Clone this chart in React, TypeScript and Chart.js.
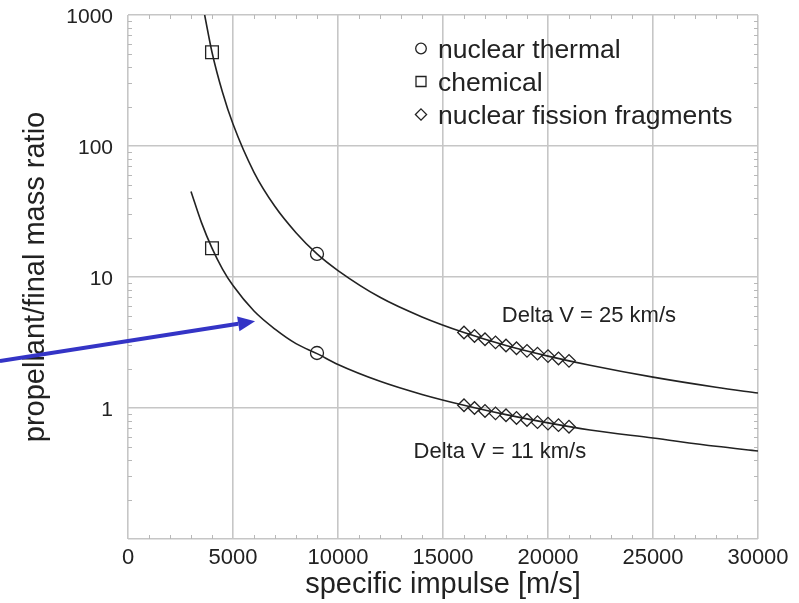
import React, { useEffect, useRef } from 'react';
import { Chart, registerables } from 'chart.js';

Chart.register(...registerables);

// ---- data ----
const X_TICKS = [0, 5000, 10000, 15000, 20000, 25000, 30000];
const X_LABELS = ['0', '5000', '10000', '15000', '20000', '25000', '30000'];
const Y_TICKS = [0.1, 1, 10, 100, 1000];
const Y_LABELS = ['', '1', '10', '100', '1000'];

// Delta V = 25 km/s curve
const curve25X = [3650, 4000, 4500, 5000, 6000, 7000, 8000, 9000, 10000, 12000, 14000, 16000, 18000, 20000, 22000, 25000, 28000, 30000];
const curve25Y = [1000, 520, 257, 147, 63, 34.5, 21.8, 15, 11.2, 7.0, 4.96, 3.77, 3.0, 2.49, 2.12, 1.72, 1.44, 1.30];

// Delta V = 11 km/s curve
const curve11X = [3000, 3500, 4000, 4500, 5000, 6000, 7000, 8000, 9000, 10000, 12000, 14000, 16000, 18000, 20000, 22000, 25000, 28000, 30000];
const curve11Y = [45, 26, 16.6, 11.5, 8.6, 5.5, 4.0, 3.1, 2.6, 2.15, 1.6, 1.27, 1.05, 0.89, 0.77, 0.68, 0.59, 0.51, 0.47];

// nuclear thermal (circles)
const thermalX = [9000, 9000];
const thermalY = [15, 2.63];

// chemical (squares)
const chemicalX = [4000, 4000];
const chemicalY = [520, 16.6];

// nuclear fission fragments (diamonds)
const fissionX = [16000, 16500, 17000, 17500, 18000, 18500, 19000, 19500, 20000, 20500, 21000];
const fission25Y = [3.77, 3.55, 3.35, 3.17, 3.0, 2.86, 2.73, 2.6, 2.49, 2.39, 2.29];
const fission11Y = [1.05, 1.0, 0.95, 0.91, 0.88, 0.84, 0.81, 0.78, 0.76, 0.74, 0.72];

const LEGEND_LABELS = ['nuclear thermal', 'chemical', 'nuclear fission fragments'];
const LEGEND_SHAPES = ['circle', 'rect', 'rectRot'];

const NOTE_TEXTS = ['Delta V = 25 km/s', 'Delta V = 11 km/s'];
const NOTE_X = [17800, 13600];
const NOTE_Y = [5.0, 0.46];

const ARROW_FROM = [-6100, 2.28];
const ARROW_TO = [6050, 4.6];

const FONT = '"Liberation Sans", Arial, Helvetica, sans-serif';
const INK = '#222222';

const zip = (xs: number[], ys: number[]) => xs.map((x, i) => ({ x, y: ys[i] }));

function drawShape(ctx: CanvasRenderingContext2D, shape: string, x: number, y: number, r: number) {
  ctx.beginPath();
  if (shape === 'circle') {
    ctx.arc(x, y, r, 0, Math.PI * 2);
  } else if (shape === 'rect') {
    ctx.rect(x - r, y - r, 2 * r, 2 * r);
  } else {
    ctx.moveTo(x, y - r);
    ctx.lineTo(x + r, y);
    ctx.lineTo(x, y + r);
    ctx.lineTo(x - r, y);
    ctx.closePath();
  }
  ctx.stroke();
}

const decorPlugin = {
  id: 'decor',
  afterDraw(chart: any) {
    const { ctx, chartArea: ca, scales } = chart;
    const xs = scales.x;
    const ys = scales.y;
    ctx.save();

    // inward minor ticks
    ctx.strokeStyle = '#b8b8b8';
    ctx.lineWidth = 1;
    for (let v = 1000; v < 30000; v += 1000) {
      if (v % 5000 === 0) continue;
      const px = Math.round(xs.getPixelForValue(v)) + 0.5;
      ctx.beginPath();
      ctx.moveTo(px, ca.bottom);
      ctx.lineTo(px, ca.bottom - 4);
      ctx.moveTo(px, ca.top);
      ctx.lineTo(px, ca.top + 4);
      ctx.stroke();
    }
    for (let d = 0.1; d < 1000; d *= 10) {
      for (let m = 2; m <= 9; m++) {
        const py = Math.round(ys.getPixelForValue(d * m)) + 0.5;
        ctx.beginPath();
        ctx.moveTo(ca.left, py);
        ctx.lineTo(ca.left + 4, py);
        ctx.moveTo(ca.right, py);
        ctx.lineTo(ca.right - 4, py);
        ctx.stroke();
      }
    }

    // curve annotations
    ctx.fillStyle = INK;
    ctx.font = `22px ${FONT}`;
    ctx.textAlign = 'left';
    ctx.textBaseline = 'middle';
    NOTE_TEXTS.forEach((t, i) => {
      ctx.fillText(t, xs.getPixelForValue(NOTE_X[i]), ys.getPixelForValue(NOTE_Y[i]));
    });

    // legend
    ctx.font = `26.5px ${FONT}`;
    ctx.textBaseline = 'alphabetic';
    ctx.strokeStyle = INK;
    ctx.lineWidth = 1.3;
    LEGEND_LABELS.forEach((t, i) => {
      const cy = ca.top + 33.5 + i * 33;
      const cx = ca.left + 293;
      const r = LEGEND_SHAPES[i] === 'rect' ? 5 : LEGEND_SHAPES[i] === 'circle' ? 5.3 : 5.6;
      drawShape(ctx, LEGEND_SHAPES[i], cx, cy, r);
      ctx.fillText(t, ca.left + 310, cy + 9.5);
    });

    // blue arrow
    const x0 = xs.getPixelForValue(ARROW_FROM[0]);
    const y0 = ys.getPixelForValue(ARROW_FROM[1]);
    const x1 = xs.getPixelForValue(ARROW_TO[0]);
    const y1 = ys.getPixelForValue(ARROW_TO[1]);
    const ang = Math.atan2(y1 - y0, x1 - x0);
    const headL = 17;
    const headW = 7.5;
    const bx = x1 - headL * Math.cos(ang);
    const by = y1 - headL * Math.sin(ang);
    ctx.strokeStyle = '#3434c6';
    ctx.fillStyle = '#3434c6';
    ctx.lineWidth = 4;
    ctx.beginPath();
    ctx.moveTo(x0, y0);
    ctx.lineTo(bx, by);
    ctx.stroke();
    ctx.beginPath();
    ctx.moveTo(x1, y1);
    ctx.lineTo(bx - headW * Math.sin(ang), by + headW * Math.cos(ang));
    ctx.lineTo(bx + headW * Math.sin(ang), by - headW * Math.cos(ang));
    ctx.closePath();
    ctx.fill();

    ctx.restore();
  },
};

export default function App() {
  const ref = useRef<HTMLCanvasElement | null>(null);

  useEffect(() => {
    if (!ref.current) return;
    const lineDs = (xs: number[], ys: number[]) => ({
      data: zip(xs, ys),
      showLine: true,
      borderColor: INK,
      borderWidth: 1.6,
      pointRadius: 0,
      cubicInterpolationMode: 'monotone' as const,
      fill: false,
    });
    const markDs = (xs: number[], ys: number[], style: string, r: number) => ({
      data: zip(xs, ys),
      showLine: false,
      pointStyle: style,
      pointRadius: r,
      pointBorderColor: INK,
      pointBackgroundColor: 'rgba(0,0,0,0)',
      pointBorderWidth: 1.3,
    });

    const chart = new Chart(ref.current, {
      type: 'scatter',
      data: {
        datasets: [
          lineDs(curve25X, curve25Y),
          lineDs(curve11X, curve11Y),
          markDs(thermalX, thermalY, 'circle', 6.5),
          markDs(chemicalX, chemicalY, 'rect', 9),
          markDs(fissionX, fission25Y, 'rectRot', 6.3),
          markDs(fissionX, fission11Y, 'rectRot', 6.3),
        ] as any,
      },
      options: {
        animation: false,
        responsive: false,
        maintainAspectRatio: false,
        events: [],
        layout: { padding: { left: 0, top: 15, right: 41, bottom: 0 } },
        plugins: {
          legend: { display: false },
          tooltip: { enabled: false },
          title: { display: false },
        },
        scales: {
          x: {
            type: 'linear',
            min: 0,
            max: 30000,
            afterBuildTicks: (s: any) => {
              s.ticks = X_TICKS.map((v) => ({ value: v }));
            },
            afterFit: (s: any) => {
              s.height = 64;
              s.paddingLeft = 0;
              s.paddingRight = 0;
            },
            ticks: {
              callback: (v: any) => {
                const i = X_TICKS.indexOf(Number(v));
                return i >= 0 ? X_LABELS[i] : '';
              },
              color: INK,
              font: { family: FONT, size: 22 },
              padding: 6,
              maxRotation: 0,
              autoSkip: false,
            },
            grid: { color: '#c6c6c6', lineWidth: 1.6, drawTicks: false },
            border: { display: false },
            title: {
              display: true,
              text: 'specific impulse [m/s]',
              color: INK,
              font: { family: FONT, size: 29 },
              padding: { top: 0, bottom: 1 },
            },
          },
          y: {
            type: 'logarithmic',
            min: 0.1,
            max: 1000,
            afterBuildTicks: (s: any) => {
              s.ticks = Y_TICKS.map((v) => ({ value: v }));
            },
            afterFit: (s: any) => {
              s.width = 128;
              s.paddingTop = 0;
              s.paddingBottom = 0;
            },
            ticks: {
              callback: (v: any) => {
                const i = Y_TICKS.indexOf(Number(v));
                return i >= 0 ? Y_LABELS[i] : '';
              },
              color: INK,
              font: { family: FONT, size: 21 },
              padding: 15,
              labelOffset: 2,
              autoSkip: false,
            },
            grid: { color: '#c6c6c6', lineWidth: 1.6, drawTicks: false },
            border: { display: false },
            title: {
              display: true,
              text: 'propellant/final mass ratio',
              color: INK,
              font: { family: FONT, size: 29 },
              padding: { top: 19, bottom: 0 },
            },
          },
        },
      } as any,
      plugins: [decorPlugin],
    });
    return () => chart.destroy();
  }, []);

  return (
    <div style={{ position: 'fixed', left: 0, top: 0, width: 799, height: 603, background: '#fff' }}>
      <canvas ref={ref} width={799} height={603} style={{ width: 799, height: 603, display: 'block' }} />
    </div>
  );
}
